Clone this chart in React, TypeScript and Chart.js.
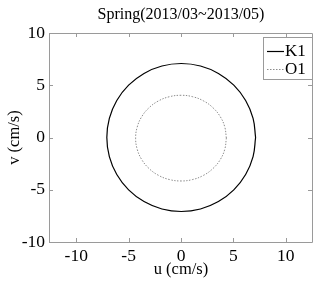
import React, { useEffect, useRef } from "react";
import { Chart, registerables } from "chart.js";

Chart.register(...registerables);

const titleText = "Spring(2013/03~2013/05)";
const xLabel = "u (cm/s)";
const yLabel = "v (cm/s)";
const xTicks = [-10, -5, 0, 5, 10];
const yTicks = [-10, -5, 0, 5, 10];
const seriesNames = ["K1", "O1"];

const k1U = [7.12, 6.88, 6.17, 5.04, 3.57, 1.86, 0.02, -1.82, -3.53, -5.0, -6.13, -6.84, -7.08, -6.84, -6.13, -5.0, -3.53, -1.82, 0.02, 1.86, 3.57, 5.04, 6.17, 6.88, 7.12];
const k1V = [0, 1.83, 3.54, 5.01, 6.13, 6.84, 7.08, 6.84, 6.13, 5.01, 3.54, 1.83, 0, -1.83, -3.54, -5.01, -6.13, -6.84, -7.08, -6.84, -6.13, -5.01, -3.54, -1.83, 0];
const o1U = [4.33, 4.18, 3.75, 3.06, 2.17, 1.12, 0, -1.12, -2.17, -3.06, -3.75, -4.18, -4.33, -4.18, -3.75, -3.06, -2.17, -1.12, 0, 1.12, 2.17, 3.06, 3.75, 4.18, 4.33];
const o1V = [-0.06, 1.0, 1.99, 2.84, 3.49, 3.9, 4.04, 3.9, 3.49, 2.84, 1.99, 1.0, -0.06, -1.12, -2.11, -2.96, -3.61, -4.02, -4.16, -4.02, -3.61, -2.96, -2.11, -1.12, -0.06];

const FONT = "'Liberation Serif', 'Times New Roman', serif";
const AXIS_COLOR = "#9a9a9a";

const framePlugin = {
  id: "frame",
  afterDraw(chart: any) {
    const { ctx, chartArea: a, scales } = chart;
    ctx.save();
    ctx.strokeStyle = AXIS_COLOR;
    ctx.lineWidth = 1;
    ctx.beginPath();
    ctx.rect(Math.round(a.left) + 0.5, Math.round(a.top) + 0.5, Math.round(a.right - a.left) - 1, Math.round(a.bottom - a.top));
    ctx.stroke();
    const tl = 4;
    ctx.beginPath();
    xTicks.forEach((v) => {
      const px = Math.round(scales.x.getPixelForValue(v)) + 0.5;
      ctx.moveTo(px, a.bottom);
      ctx.lineTo(px, a.bottom - tl);
      ctx.moveTo(px, a.top);
      ctx.lineTo(px, a.top + tl);
    });
    yTicks.forEach((v) => {
      const py = Math.round(scales.y.getPixelForValue(v)) + 0.5;
      ctx.moveTo(a.left, py);
      ctx.lineTo(a.left + tl, py);
      ctx.moveTo(a.right - 1, py);
      ctx.lineTo(a.right - 1 - tl, py);
    });
    ctx.stroke();

    // legend box
    const bx = 263.5, by = 37.5, bw = 49, bh = 42;
    ctx.fillStyle = "#ffffff";
    ctx.fillRect(bx, by, bw, bh);
    ctx.strokeStyle = AXIS_COLOR;
    ctx.strokeRect(bx, by, bw, bh);
    const rows = [51, 69];
    chart.data.datasets.forEach((ds: any, i: number) => {
      const y = rows[i] + 0.5;
      ctx.beginPath();
      ctx.strokeStyle = ds.borderColor;
      ctx.lineWidth = ds.borderWidth;
      ctx.setLineDash(ds.borderDash || []);
      ctx.moveTo(267, y);
      ctx.lineTo(284, y);
      ctx.stroke();
      ctx.setLineDash([]);
      ctx.fillStyle = "#000";
      ctx.font = `17px ${FONT}`;
      ctx.textBaseline = "middle";
      ctx.textAlign = "left";
      ctx.fillText(ds.label, 285, rows[i] + 1);
    });
    ctx.restore();
  },
};

export default function App() {
  const ref = useRef<HTMLCanvasElement>(null);
  useEffect(() => {
    if (!ref.current) return;
    const toPts = (u: number[], v: number[]) => u.map((x, i) => ({ x, y: v[i] }));
    const chart = new Chart(ref.current, {
      type: "scatter",
      data: {
        datasets: [
          {
            label: seriesNames[0],
            data: toPts(k1U, k1V),
            showLine: true,
            borderColor: "#000000",
            borderWidth: 1.2,
            pointRadius: 0,
            tension: 0.4,
          },
          {
            label: seriesNames[1],
            data: toPts(o1U, o1V),
            showLine: true,
            borderColor: "#8c8c8c",
            borderWidth: 1,
            borderDash: [1.5, 1.5],
            pointRadius: 0,
            tension: 0.4,
          },
        ],
      },
      options: {
        responsive: false,
        animation: false,
        layout: { padding: { left: 0, right: 1, top: 0, bottom: 0 } },
        plugins: {
          legend: { display: false },
          tooltip: { enabled: false },
          title: {
            display: true,
            fullSize: false,
            text: titleText,
            color: "#000",
            font: { family: FONT, size: 16, weight: "normal" },
            padding: { top: 5, bottom: 8.8 },
          },
        },
        scales: {
          x: {
            type: "linear",
            min: -12.6,
            max: 12.6,
            afterBuildTicks: (s: any) => {
              s.ticks = xTicks.map((v) => ({ value: v }));
            },
            afterFit: (s: any) => {
              s.height = 40;
            },
            grid: { display: false, drawTicks: false },
            border: { display: false },
            ticks: {
              color: "#000",
              font: { family: FONT, size: 17.5 },
              padding: 4,
              maxRotation: 0,
              autoSkip: false,
            },
            title: {
              display: true,
              text: xLabel,
              color: "#000",
              font: { family: FONT, size: 16.5 },
              padding: { top: 2, bottom: 2 },
            },
          },
          y: {
            type: "linear",
            min: -10,
            max: 10,
            afterBuildTicks: (s: any) => {
              s.ticks = yTicks.map((v) => ({ value: v }));
            },
            afterFit: (s: any) => {
              s.width = 49;
            },
            grid: { display: false, drawTicks: false },
            border: { display: false },
            ticks: {
              color: "#000",
              font: { family: FONT, size: 17.5 },
              padding: 4,
              autoSkip: false,
            },
            title: {
              display: true,
              text: yLabel,
              color: "#000",
              font: { family: FONT, size: 16.5 },
              padding: { top: 5, bottom: 2 },
            },
          },
        },
      },
      plugins: [framePlugin],
    });
    return () => chart.destroy();
  }, []);
  return (
    <div style={{ position: "absolute", left: 0, top: 0, width: 314, height: 282, background: "#fff" }}>
      <canvas ref={ref} width={314} height={282} />
    </div>
  );
}
